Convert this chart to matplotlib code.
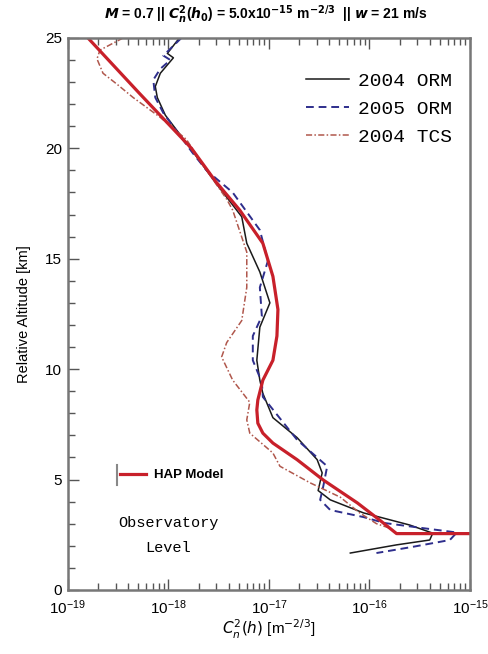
import numpy as np
import matplotlib.pyplot as plt
from matplotlib.ticker import LogLocator, MultipleLocator, NullFormatter

# altitude [km] and log10(Cn2)
hap_h = [25.0, 22.5, 20.0, 19.5, 18.5, 17.2, 15.7, 14.2, 12.7, 11.5, 10.4, 9.5, 8.6, 8.15, 7.55, 7.1, 6.65, 5.9, 4.98,
         3.94, 3.17, 2.55, 2.55]
hap_c = [-18.80, -18.29, -17.77, -17.69, -17.53, -17.29, -17.06, -16.96, -16.91, -16.92, -16.96, -17.06, -17.11, -17.12,
         -17.11, -17.06, -16.96, -16.72, -16.46, -16.12, -15.90, -15.73, -15.0]

orm04_h = [25.0, 24.3, 24.1, 23.4, 22.8, 22.3, 21.5, 20.0, 18.5, 16.9, 15.7, 14.4, 13.0, 11.9, 10.4, 9.5, 8.9, 7.8, 6.9,
           5.9, 5.3, 4.5, 4.08, 3.49, 2.94, 2.57, 2.26, 2.04, 1.67]
orm04_c = [-17.89, -18.01, -17.95, -18.08, -18.13, -18.11, -18.03, -17.78, -17.54, -17.27, -17.22, -17.09, -16.99, -17.09,
           -17.12, -17.09, -17.06, -16.96, -16.72, -16.52, -16.47, -16.51, -16.39, -16.06, -15.60, -15.37, -15.40,
           -15.73, -16.19]

orm05_h = [25.0, 24.2, 24.0, 23.6, 23.1, 22.3, 21.6, 19.8, 19.0, 18.0, 16.3, 14.9, 13.7, 12.4, 11.5, 10.4, 9.4, 8.74,
           6.8, 5.6, 4.67, 4.08, 3.62, 3.3, 3.03, 2.8, 2.6, 2.26, 1.95, 1.67]
orm05_c = [-17.87, -18.05, -17.98, -18.08, -18.15, -18.13, -18.05, -17.76, -17.62, -17.36, -17.09, -17.01, -17.09, -17.07,
           -17.16, -17.16, -17.07, -17.06, -16.72, -16.42, -16.46, -16.49, -16.39, -16.06, -15.85, -15.47, -15.13, -15.20,
           -15.57, -15.93]

tcs04_h = [25.0, 24.45, 24.05, 23.4, 22.9, 22.3, 21.4, 20.4, 19.0, 17.7, 17.2, 15.3, 13.7, 12.2, 11.2, 10.55, 9.5, 8.5,
           7.7, 7.1, 6.2, 5.6, 4.85, 4.2, 3.5, 3.0, 2.8]
tcs04_c = [-18.45, -18.68, -18.71, -18.65, -18.51, -18.35, -18.08, -17.82, -17.62, -17.42, -17.36, -17.22, -17.22, -17.27,
           -17.42, -17.47, -17.36, -17.19, -17.22, -17.19, -16.96, -16.89, -16.59, -16.29, -16.10, -15.93, -15.80]

x_ticks = [1e-19, 1e-18, 1e-17, 1e-16, 1e-15]

fig = plt.figure(figsize=(4.88, 6.54), dpi=100)
ax = fig.add_axes([0.139, 0.098, 0.824, 0.844])

l1, = ax.plot(10 ** np.array(orm04_c), orm04_h, color="#1a1a1a", lw=1.1, label="2004 ORM")
l2, = ax.plot(10 ** np.array(orm05_c), orm05_h, color="#2e2e8c", lw=1.4, ls=(0, (4, 2.5)), label="2005 ORM")
l3, = ax.plot(10 ** np.array(tcs04_c), tcs04_h, color="#b0574c", lw=1.1, ls=(0, (4, 1.5, 1, 1.5)), label="2004 TCS")
l4, = ax.plot(10 ** np.array(hap_c), hap_h, color="#c8202a", lw=2.3, label="HAP Model")

ax.set_xscale("log")
ax.set_xlim(1e-19, 1e-15)
ax.set_ylim(0, 25)
ax.set_xticks(x_ticks)
ax.yaxis.set_major_locator(MultipleLocator(5))
ax.yaxis.set_minor_locator(MultipleLocator(1))
ax.xaxis.set_minor_locator(LogLocator(base=10, subs=np.arange(2, 10), numticks=20))
ax.xaxis.set_minor_formatter(NullFormatter())
ax.tick_params(which="both", direction="in", top=True, right=False, color="#555555")
ax.tick_params(which="major", length=8, width=1, labelsize=11, pad=4)
ax.tick_params(axis="x", which="major", pad=6)
ax.tick_params(which="minor", length=5, width=1, labelbottom=False, labelleft=False)
for s in ax.spines.values():
    s.set_color("#777777")
    s.set_linewidth(1.8)
for t in ax.get_xticklabels() + ax.get_yticklabels():
    t.set_fontfamily("Liberation Sans")

ax.set_xlabel(r"$C_n^2(h)$ [m$^{-2/3}$]", fontsize=11, family="Liberation Sans", labelpad=1)
ax.set_ylabel("Relative Altitude [km]", fontsize=10.5, family="Liberation Sans", labelpad=10)

fig.text(0.545, 0.978, r"$\mathbfit{M}$ = 0.7 || $\mathbfit{C}_{\mathbfit{n}}^{\mathbf{2}}$($\mathbfit{h}_{\mathbf{0}}$) = 5.0x10$^{\mathbf{-15}}$ m$^{\mathbf{-2/3}}$  || $\mathbfit{w}$ = 21 m/s",
         ha="center", va="center", fontsize=10, fontweight="bold", family="Liberation Sans")

leg = ax.legend(handles=[l1, l2, l3], loc="upper right", bbox_to_anchor=(1.0, 0.97), frameon=False,
                prop={"family": "Liberation Mono", "size": 14}, handlelength=2.2, labelspacing=0.55,
                handletextpad=0.5)
ax.add_artist(leg)
ax.legend(handles=[l4], loc="center left", bbox_to_anchor=(0.1, 0.208), frameon=False,
          prop={"family": "Liberation Sans", "size": 9.5, "weight": "bold"}, handlelength=2.0, handletextpad=0.6)
ax.plot([0.122, 0.122], [0.19, 0.226], transform=ax.transAxes, color="#888888", lw=1.5)

ax.text(0.25, 0.098, "Observatory\nLevel", transform=ax.transAxes, ha="center", va="center",
        fontsize=11, family="Liberation Mono", linespacing=2.0)

fig.savefig("out.png", dpi=100)
